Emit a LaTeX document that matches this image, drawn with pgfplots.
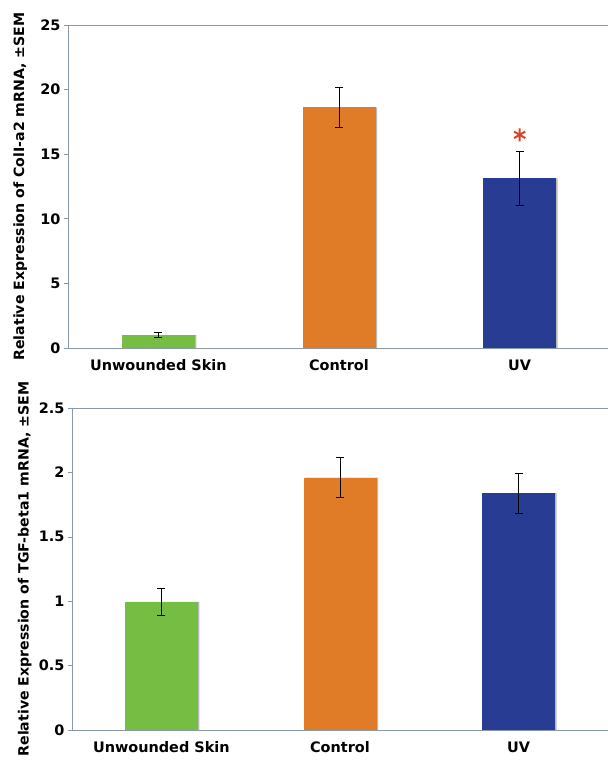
\documentclass[border=0pt]{standalone}
\usepackage{pgfplots}
\pgfplotsset{compat=1.18}
\usepackage{fontspec}
\setmainfont{DejaVu Sans}
\definecolor{cgreen}{HTML}{76BE43}
\definecolor{corange}{HTML}{E07B28}
\definecolor{cblue}{HTML}{283C93}
\definecolor{caxis}{HTML}{8A98A6}
\definecolor{cstar}{HTML}{D9422B}
\pgfplotsset{
  mybase/.style={
    scale only axis,
    anchor=south west,
    xmin=0.5, xmax=3.5,
    ymin=0,
    axis line style={caxis, line width=0.8pt},
    tick style={caxis, line width=0.6pt},
    xtick={1,2,3},
    xticklabels={Unwounded Skin, Control, UV},
    x tick style={draw=none},
    extra x ticks={1.5,2.5},
    extra x tick labels={},
    extra x tick style={tick align=outside, major tick length=4bp, tick style={caxis}},
    ytick pos=left,
    tick align=outside,
    major tick length=4bp,
    /pgf/number format/assume math mode=true,
    ticklabel style={font=\fontsize{14.5}{17}\selectfont\bfseries},
    xticklabel style={yshift=-4.5bp},
    label style={font=\fontsize{14.2}{16}\selectfont\bfseries},
    ylabel style={at={(axis description cs:-0.088,0.5)}, anchor=center},
  },
  mybar/.style={ybar, bar shift=0pt, bar width=73bp, draw=none, fill=#1,
    error bars/.cd, y dir=both, y explicit,
    error bar style={black, line width=0.7pt},
    error mark options={rotate=90, mark size=4bp, black, line width=0.7pt}},
  myshadow/.style={ybar, bar shift=1.5bp, bar width=73bp, draw=none, fill=gray!55},
}
\begin{document}
\begin{tikzpicture}
\path[use as bounding box] (0,0) rectangle (608bp,761bp);
% Top panel
\begin{axis}[mybase,
  at={(68bp,413bp)}, width=542bp, height=323bp,
  ymax=25, ytick={0,5,10,15,20,25},
  ylabel={Relative Expression of ColI-a2 mRNA, \textpm SEM}]
\addplot[myshadow] coordinates {(1,1.0) (2,18.63) (3,13.12)};
\addplot[mybar=cgreen] coordinates {(1,1.0) +- (0,0.2)};
\addplot[mybar=corange] coordinates {(2,18.63) +- (0,1.56)};
\addplot[mybar=cblue] coordinates {(3,13.12) +- (0,2.07)};
\addplot[only marks, mark=asterisk, mark size=6.5bp, cstar, line width=2pt] coordinates {(3,16.5)};
\end{axis}
% Bottom panel
\begin{axis}[mybase,
  at={(72bp,31bp)}, width=536bp, height=322bp,
  ymax=2.5, ytick={0,0.5,1,1.5,2,2.5},
  ylabel={Relative Expression of TGF-beta1 mRNA, \textpm SEM}]
\addplot[myshadow] coordinates {(1,0.995) (2,1.96) (3,1.84)};
\addplot[mybar=cgreen] coordinates {(1,0.995) +- (0,0.105)};
\addplot[mybar=corange] coordinates {(2,1.96) +- (0,0.157)};
\addplot[mybar=cblue] coordinates {(3,1.84) +- (0,0.155)};
\end{axis}
\end{tikzpicture}
\end{document}
